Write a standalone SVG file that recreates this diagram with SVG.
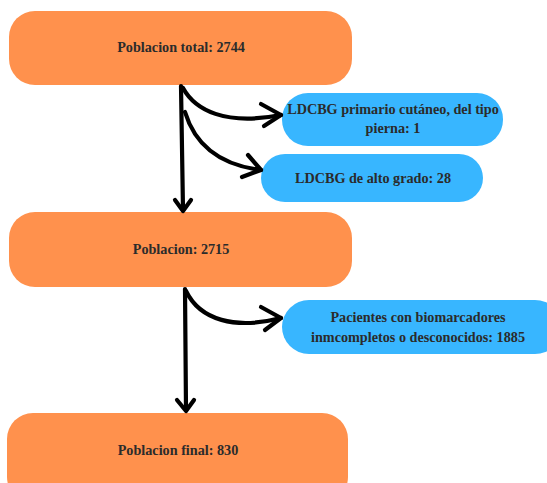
<svg xmlns="http://www.w3.org/2000/svg" width="547" height="483" viewBox="0 0 547 483">
<style>
.main{fill:#FF914D}
.side{fill:#38B6FF}
text{font-family:"Liberation Serif","DejaVu Serif",serif;font-weight:bold;font-size:14.2px;fill:#2b2b2b;text-anchor:middle}
.c path{fill:none;stroke:#000;stroke-width:4.2;stroke-linecap:round;stroke-linejoin:round}
</style>
<rect width="547" height="483" fill="#fff"/>
<g id="n1"><rect class="main" x="9" y="11" width="343" height="74" rx="26"/><text x="181" y="52">Poblacion total: 2744</text></g>
<g id="n2"><rect class="side" x="282" y="93" width="221" height="53" rx="26"/><text x="393" y="114">LDCBG primario cutáneo, del tipo</text><text x="393" y="133">pierna: 1</text></g>
<g id="n3"><rect class="side" x="261" y="154" width="222" height="48" rx="24"/><text x="373" y="183">LDCBG de alto grado: 28</text></g>
<g id="n4"><rect class="main" x="9" y="212" width="343" height="75" rx="26"/><text x="181" y="254">Poblacion: 2715</text></g>
<g id="n5"><rect class="side" x="282" y="300" width="280" height="54" rx="27"/><text x="418" y="322">Pacientes con biomarcadores</text><text x="418" y="342">inmcompletos o desconocidos: 1885</text></g>
<g id="n6"><rect class="main" x="7" y="413" width="341" height="90" rx="26"/><text x="178" y="455">Poblacion final: 830</text></g>
<g id="connectors" class="c">
<path d="M181 86 L183 210"/>
<path d="M175 200 L183 211 L191 200"/>
<path d="M183 88 C195 110 225 126 281 115"/>
<path d="M261 104 L281 115 L264 126"/>
<path d="M185 112 C195 145 220 165 261 170"/>
<path d="M248 155 L261 170 L242 177"/>
<path d="M185 289 L186 410"/>
<path d="M177 400 L186 411 L194 400"/>
<path d="M186 291 C200 320 235 330 281 318"/>
<path d="M261 307 L281 318 L265 330"/>
</g>
</svg>
